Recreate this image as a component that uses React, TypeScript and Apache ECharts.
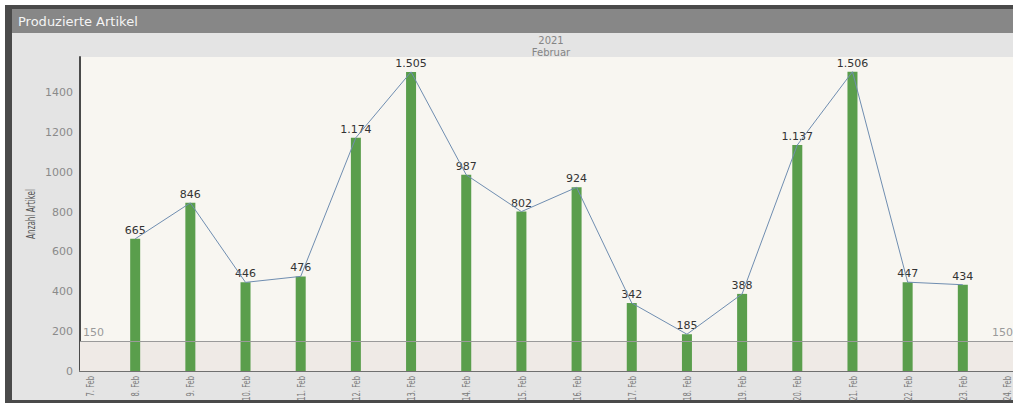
import React, { useEffect, useRef } from "react";
import * as echarts from "echarts";

const categories = ["7. Feb", "8. Feb", "9. Feb", "10. Feb", "11. Feb", "12. Feb", "13. Feb", "14. Feb", "15. Feb", "16. Feb", "17. Feb", "18. Feb", "19. Feb", "20. Feb", "21. Feb", "22. Feb", "23. Feb", "24. Feb"];
const produced: (number | null)[] = [null, 665, 846, 446, 476, 1174, 1505, 987, 802, 924, 342, 185, 388, 1137, 1506, 447, 434, null];
const threshold = 150;
const yTicks = { min: 0, max: 1580, interval: 200 };
const titleText = "Produzierte Artikel";
const yearText = "2021";
const monthText = "Februar";
const yAxisName = "Anzahl Artikel";

const fmt = (v: number) => v.toString().replace(/\B(?=(\d{3})+(?!\d))/g, ".");
const narrow = "'DejaVu Sans Condensed', 'Liberation Sans Narrow', sans-serif";

export default function App() {
  const ref = useRef<HTMLDivElement>(null);
  useEffect(() => {
    if (!ref.current) return;
    const chart = echarts.init(ref.current, undefined, { renderer: "svg" });
    const baseGraphic: any[] = [
      { id: "frame", type: "rect", z: -10, shape: { x: 5, y: 5, width: 1008, height: 398 }, style: { fill: "#4a4a4a" } },
      { id: "inner", type: "rect", z: -9, shape: { x: 12, y: 9, width: 1001, height: 391 }, style: { fill: "#e4e4e4" } },
      { id: "titlebar", type: "rect", z: -8, shape: { x: 12, y: 9, width: 1001, height: 24 }, style: { fill: "#878787" } },
      { id: "title", type: "text", z: 5, x: 18, y: 21, style: { text: titleText, fill: "#f4f4f4", font: "13px 'DejaVu Sans'", textVerticalAlign: "middle" } },
      { id: "year", type: "text", z: 5, x: 551, y: 40, style: { text: yearText, fill: "#858585", font: "10px 'DejaVu Sans'", textAlign: "center", textVerticalAlign: "middle" } },
      { id: "month", type: "text", z: 5, x: 551, y: 52, style: { text: monthText, fill: "#858585", font: "10px 'DejaVu Sans'", textAlign: "center", textVerticalAlign: "middle" } },
      { id: "yname", type: "text", z: 5, x: 31, y: 214, rotation: Math.PI / 2, scaleX: 0.62, style: { text: yAxisName, fill: "#555", font: "13px " + narrow, textAlign: "center", textVerticalAlign: "middle" } },
    ];
    chart.setOption({
      animation: false,
      backgroundColor: "#ffffff",
      graphic: baseGraphic,
      grid: { left: 80, top: 57, right: -5, bottom: 32, show: true, backgroundColor: "#f8f6f1", borderWidth: 0, outerBoundsMode: "none", containLabel: false },
      xAxis: {
        type: "category",
        data: categories,
        boundaryGap: false,
        axisLine: { show: true, lineStyle: { color: "#707070", width: 2 } },
        axisTick: { show: false },
        axisLabel: { show: false },
        splitLine: { show: false },
      },
      yAxis: {
        type: "value",
        min: yTicks.min,
        max: yTicks.max,
        interval: yTicks.interval,
        axisLine: { show: true, lineStyle: { color: "#4a4a4a", width: 2 } },
        axisTick: { show: false },
        axisLabel: { color: "#8a8a8a", fontSize: 11, fontFamily: "'DejaVu Sans', sans-serif", margin: 7, showMaxLabel: false, formatter: (v: number) => String(v) },
        splitLine: { show: false },
      },
      series: [
        {
          type: "bar",
          data: produced,
          barWidth: 10,
          itemStyle: { color: "#5a9e4c" },
          z: 2,
          label: {
            show: true,
            position: "top",
            distance: 3,
            color: "#333",
            fontSize: 11,
            fontFamily: "'DejaVu Sans', sans-serif",
            formatter: (p: any) => fmt(p.value),
          },
          markArea: {
            silent: true,
            itemStyle: { color: "#efeae6" },
            data: [[{ yAxis: 0 }, { yAxis: threshold }]],
          },
          markLine: {
            silent: true,
            symbol: "none",
            lineStyle: { color: "#9a9a9a", width: 1, type: "solid" },
            label: { color: "#9a9a9a", fontSize: 11, fontFamily: "'DejaVu Sans', sans-serif", distance: 3 },
            data: [
              { yAxis: threshold, label: { position: "insideStartTop", formatter: String(threshold) } },
              { yAxis: threshold, label: { position: "insideEndTop", formatter: String(threshold), padding: [0, 2, 0, 0] } },
            ],
          },
        },
        {
          type: "line",
          data: produced,
          symbol: "none",
          connectNulls: false,
          z: 3,
          lineStyle: { color: "#6f8db0", width: 1 },
        },
      ],
    });
    const labelY = (chart.convertToPixel({ yAxisIndex: 0 }, 0) as number) + 5;
    const xLabels = categories.map((c, i) => {
      const px = chart.convertToPixel({ xAxisIndex: 0 }, i) as number;
      const x = Math.min(Math.max(px, 90), 1007);
      return {
        id: "xl" + i,
        type: "text",
        z: 5,
        x,
        y: labelY,
        rotation: Math.PI / 2,
        scaleX: 0.68,
        style: { text: c, fill: "#7a7a7a", font: "11px " + narrow, textAlign: "right", textVerticalAlign: "middle" },
      };
    });
    chart.setOption({ graphic: [...baseGraphic, ...xLabels] });
    return () => chart.dispose();
  }, []);
  return <div ref={ref} style={{ position: "fixed", left: 0, top: 0, width: 1013, height: 403 }} />;
}
